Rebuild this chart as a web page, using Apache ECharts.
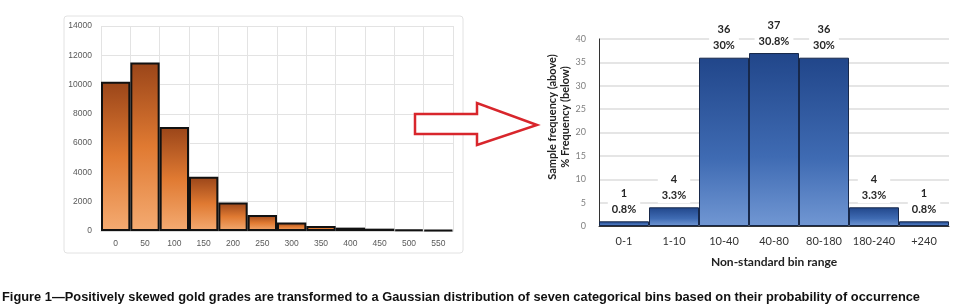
<!DOCTYPE html>
<html>
<head>
<meta charset="utf-8">
<script src="https://cdn.jsdelivr.net/npm/echarts@6/dist/echarts.min.js"></script>
<style>
html,body{margin:0;padding:0;background:#fff;}
#c{width:958px;height:307px;}
</style>
</head>
<body>
<div id="c"></div>
<script>
// Left chart (raw grades histogram)
const leftCats = ['0','50','100','150','200','250','300','350','400','450','500','550'];
const leftVals = [10200, 11500, 7100, 3700, 1950, 1100, 580, 350, 230, 160, 110, 70];
const leftYMax = 14000;
const leftYInterval = 2000;

// Right chart (categorical bins)
const rightCats = ['0-1','1-10','10-40','40-80','80-180','180-240','+240'];
const rightCounts = [1, 4, 36, 37, 36, 4, 1];
const rightPcts = ['0.8%','3.3%','30%','30.8%','30%','3.3%','0.8%'];
const rightYMax = 40;
const rightYInterval = 5;

const yTitle = 'Sample frequency (above)\n% Frequency (below)';
const xTitle = 'Non-standard bin range';
const caption = 'Figure 1\u2014Positively skewed gold grades are transformed to a Gaussian distribution of seven categorical bins based on their probability of occurrence';

const chart = echarts.init(document.getElementById('c'), null, {renderer:'canvas'});

// caption scaling to match reference width
const capFont = 'bold 13.5px "Liberation Sans", Arial, sans-serif';
const cv = document.createElement('canvas').getContext('2d');
cv.font = capFont;
const capW = cv.measureText(caption).width;
const capScale = 918 / capW;

const orangeGrad = new echarts.graphic.LinearGradient(0,0,0,1,[
  {offset:0, color:'#9a4519'},
  {offset:0.5, color:'#e07a32'},
  {offset:1, color:'#f4ab72'}
]);
const blueGrad = new echarts.graphic.LinearGradient(0,0,0,1,[
  {offset:0, color:'#21468a'},
  {offset:0.6, color:'#3f6bb3'},
  {offset:1, color:'#7197d3'}
]);

const option = {
  animation:false,
  backgroundColor:'#fff',
  grid:[
    {left:101, right:505, top:26, bottom:76},
    {left:599, right:9, top:39, bottom:81}
  ],
  xAxis:[
    {
      gridIndex:0, type:'category', data:leftCats, boundaryGap:true,
      axisLine:{show:true, lineStyle:{color:'#d9d9d9'}},
      axisTick:{show:false},
      axisLabel:{interval:0, color:'#595959', fontSize:8.5, fontFamily:'"Liberation Sans", Arial', margin:8},
      splitLine:{show:true, interval:0, lineStyle:{color:'#e3e3e3', width:1}}
    },
    {
      gridIndex:1, type:'category', data:rightCats, boundaryGap:true,
      axisLine:{show:true, lineStyle:{color:'#333'}},
      axisTick:{show:false},
      axisLabel:{interval:0, color:'#333', fontSize:11, fontFamily:'Lato', margin:10},
      name:xTitle, nameLocation:'middle', nameGap:30,
      nameTextStyle:{fontFamily:'Lato', fontWeight:'bold', fontSize:12, color:'#222'}
    }
  ],
  yAxis:[
    {
      gridIndex:0, type:'value', min:0, max:leftYMax, interval:leftYInterval,
      axisLine:{show:false}, axisTick:{show:false},
      axisLabel:{formatter:function(v){return String(v);}, color:'#595959', fontSize:8.5, fontFamily:'"Liberation Sans", Arial', margin:9},
      splitLine:{lineStyle:{color:'#e3e3e3'}}
    },
    {
      gridIndex:1, type:'value', min:0, max:rightYMax, interval:rightYInterval,
      axisLine:{show:true, lineStyle:{color:'#333', width:1}}, axisTick:{show:false},
      axisLabel:{color:'#808080', fontSize:9, fontFamily:'Lato', margin:13},
      splitLine:{lineStyle:{color:'#dcdcdc', width:1.5}}
    }
  ],
  series:[
    {
      type:'bar', xAxisIndex:0, yAxisIndex:0, data:leftVals,
      barCategoryGap:'0%',
      itemStyle:{color:orangeGrad, borderColor:'#111', borderWidth:2}
    },
    {
      type:'bar', xAxisIndex:1, yAxisIndex:1, data:rightCounts,
      barCategoryGap:'0%',
      itemStyle:{color:blueGrad, borderColor:'#17284a', borderWidth:1},
      label:{
        show:true, position:'top', distance:4,
        formatter:function(p){return rightCounts[p.dataIndex] + '\n' + rightPcts[p.dataIndex];},
        fontFamily:'Lato', fontWeight:'bold', fontSize:11, color:'#262626',
        lineHeight:16, backgroundColor:'#fff', padding:[0,4]
      }
    }
  ],
  graphic:[
    {
      type:'rect', z:-10, shape:{x:64, y:16, width:399, height:237, r:3},
      style:{fill:'#fff', stroke:'#e2e2e2', lineWidth:1}
    },
    {
      type:'polygon', z:10,
      shape:{points:[[415,114],[477,114],[477,103],[537,125],[477,145],[477,134],[415,134]]},
      style:{fill:'#fff', stroke:'#d8262c', lineWidth:2.5}
    },
    {
      type:'text', z:10, x:559, y:117, rotation:Math.PI/2,
      style:{text:yTitle, font:'bold 11px Lato', fill:'#222', textAlign:'center', textVerticalAlign:'middle', lineHeight:12.5}
    },
    {
      type:'text', z:10, x:2, y:297, scaleX:capScale, scaleY:1, originX:0, originY:0,
      style:{text:caption, font:capFont, fill:'#111', textAlign:'left', textVerticalAlign:'middle'}
    }
  ]
};
chart.setOption(option);
</script>
</body>
</html>
